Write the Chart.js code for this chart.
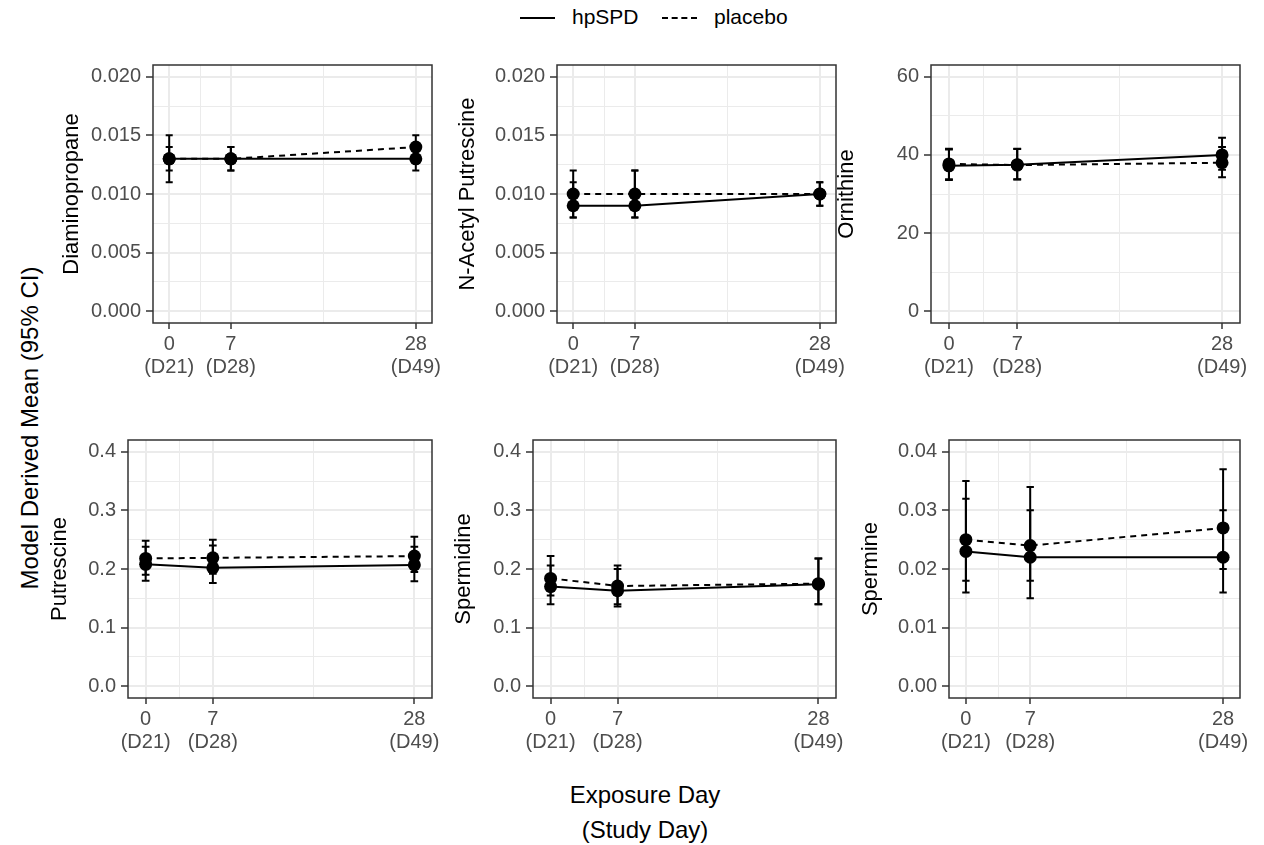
<!DOCTYPE html>
<html lang="en">
<head>
<meta charset="UTF-8">
<title>Polyamines by exposure day</title>
<script src="https://cdn.jsdelivr.net/npm/chart.js@4/dist/chart.umd.min.js"></script>
<style>
  body { margin: 0; background: #fff; font-family: "Liberation Sans", Arial, sans-serif; }
  #page { position: relative; width: 1264px; height: 845px; overflow: hidden; background: #fff; }
  canvas { position: absolute; }
  .txt { position: absolute; color: #000; white-space: nowrap; font-size: 24px; line-height: 1; }
  .key { position: absolute; top: 17px; height: 0; }
</style>
</head>
<body>
<div id="page">
  <!-- legend -->
  <div class="key" style="left:520px;width:35px;border-top:2px solid #000;"></div>
  <div class="txt" style="left:572px;top:6px;font-size:21px;">hpSPD</div>
  <div class="key" style="left:662px;width:35px;border-top:2px dashed #000;"></div>
  <div class="txt" style="left:714px;top:6px;font-size:21px;">placebo</div>

  <!-- shared titles -->
  <div class="txt" style="left:30px;top:428px;transform:translate(-50%,-50%) rotate(-90deg);">Model Derived Mean (95% CI)</div>
  <div class="txt" style="left:645px;top:795px;transform:translate(-50%,-50%);">Exposure Day</div>
  <div class="txt" style="left:645px;top:830px;transform:translate(-50%,-50%);">(Study Day)</div>
</div>

<script>
// x positions (exposure day) and their two-line labels
const days = [0, 7, 28];
const dayLabels = [['0', '(D21)'], ['7', '(D28)'], ['28', '(D49)']];
const xMinor = [3.5, 17.5];

// Diaminopropane
const diaHp = [0.013, 0.013, 0.013];
const diaHpLo = [0.011, 0.012, 0.012];
const diaHpHi = [0.015, 0.014, 0.014];
const diaPl = [0.013, 0.013, 0.014];
const diaPlLo = [0.012, 0.012, 0.013];
const diaPlHi = [0.014, 0.014, 0.015];

// N-Acetyl Putrescine
const napHp = [0.009, 0.009, 0.010];
const napHpLo = [0.008, 0.008, 0.009];
const napHpHi = [0.011, 0.012, 0.011];
const napPl = [0.010, 0.010, 0.010];
const napPlLo = [0.008, 0.008, 0.009];
const napPlHi = [0.012, 0.012, 0.011];

// Ornithine
const ornHp = [37.2, 37.5, 40.0];
const ornHpLo = [33.6, 33.8, 36.2];
const ornHpHi = [41.4, 41.6, 44.4];
const ornPl = [37.7, 37.4, 38.0];
const ornPlLo = [33.8, 33.7, 34.3];
const ornPlHi = [41.6, 41.5, 42.0];

// Putrescine
const putHp = [0.208, 0.202, 0.207];
const putHpLo = [0.180, 0.176, 0.179];
const putHpHi = [0.238, 0.240, 0.238];
const putPl = [0.218, 0.219, 0.222];
const putPlLo = [0.190, 0.192, 0.195];
const putPlHi = [0.248, 0.250, 0.255];

// Spermidine
const spdHp = [0.170, 0.163, 0.174];
const spdHpLo = [0.140, 0.136, 0.140];
const spdHpHi = [0.206, 0.200, 0.218];
const spdPl = [0.184, 0.171, 0.175];
const spdPlLo = [0.155, 0.140, 0.140];
const spdPlHi = [0.222, 0.206, 0.218];

// Spermine
const spmHp = [0.023, 0.022, 0.022];
const spmHpLo = [0.016, 0.015, 0.016];
const spmHpHi = [0.032, 0.030, 0.030];
const spmPl = [0.025, 0.024, 0.027];
const spmPlLo = [0.018, 0.018, 0.020];
const spmPlHi = [0.035, 0.034, 0.037];

// panel setup: name, data, y axis top tick / step / decimals
const panels = [
  { name: 'Diaminopropane', hp: [diaHp, diaHpLo, diaHpHi], pl: [diaPl, diaPlLo, diaPlHi], top: 0.02, step: 0.005, dec: 3 },
  { name: 'N-Acetyl Putrescine', hp: [napHp, napHpLo, napHpHi], pl: [napPl, napPlLo, napPlHi], top: 0.02, step: 0.005, dec: 3 },
  { name: 'Ornithine', hp: [ornHp, ornHpLo, ornHpHi], pl: [ornPl, ornPlLo, ornPlHi], top: 60, step: 20, dec: 0 },
  { name: 'Putrescine', hp: [putHp, putHpLo, putHpHi], pl: [putPl, putPlLo, putPlHi], top: 0.4, step: 0.1, dec: 1 },
  { name: 'Spermidine', hp: [spdHp, spdHpLo, spdHpHi], pl: [spdPl, spdPlLo, spdPlHi], top: 0.4, step: 0.1, dec: 1 },
  { name: 'Spermine', hp: [spmHp, spmHpLo, spmHpHi], pl: [spmPl, spmPlLo, spmPlHi], top: 0.04, step: 0.01, dec: 2 }
];

// where each plot box sits on the page [left, top, right, bottom] + centre of the y title
const boxes = [
  { plot: [153, 65, 432, 323], titleX: 73 },
  { plot: [557, 65, 836, 323], titleX: 469 },
  { plot: [931, 65, 1240, 323], titleX: 848 },
  { plot: [128, 440, 432, 698], titleX: 61 },
  { plot: [533, 440, 836, 698], titleX: 465 },
  { plot: [949, 440, 1240, 698], titleX: 872 }
];

const FONT = '"Liberation Sans", Arial, sans-serif';
const TICK_COL = '#4d4d4d';
const GRID_COL = '#ebebeb';
const CAP_HALF = 0.4; // errorbar half width in x units

// errorbars drawn under the points
const errorBars = {
  id: 'errorBars',
  beforeDatasetsDraw(chart) {
    const { ctx, scales: { x, y } } = chart;
    ctx.save();
    ctx.strokeStyle = '#000';
    ctx.lineWidth = 2;
    ctx.setLineDash([]);
    chart.data.datasets.forEach(ds => {
      ds.data.forEach((p, i) => {
        const px = x.getPixelForValue(p.x);
        const half = x.getPixelForValue(p.x + CAP_HALF) - px;
        const yl = y.getPixelForValue(ds.lo[i]);
        const yh = y.getPixelForValue(ds.hi[i]);
        ctx.beginPath();
        ctx.moveTo(px, yl); ctx.lineTo(px, yh);
        ctx.moveTo(px - half, yl); ctx.lineTo(px + half, yl);
        ctx.moveTo(px - half, yh); ctx.lineTo(px + half, yh);
        ctx.stroke();
      });
    });
    ctx.restore();
  }
};

// ggplot-like panel border
const panelBorder = {
  id: 'panelBorder',
  afterDraw(chart) {
    const { ctx, chartArea: a } = chart;
    ctx.save();
    ctx.strokeStyle = '#333';
    ctx.lineWidth = 1.5;
    ctx.strokeRect(a.left, a.top, a.width, a.height);
    ctx.restore();
  }
};

const page = document.getElementById('page');

panels.forEach((pn, k) => {
  const b = boxes[k];
  const [pl, pt, pr, pb] = b.plot;
  const left = b.titleX - 14;
  const top = pt - 10;
  const axisW = pl - left;
  const axisH = 70;
  const w = pr + 22 - left;
  const h = 10 + (pb - pt) + axisH;

  const cv = document.createElement('canvas');
  cv.width = w; cv.height = h;
  cv.style.left = left + 'px'; cv.style.top = top + 'px';
  cv.style.width = w + 'px'; cv.style.height = h + 'px';
  page.appendChild(cv);

  const half = pn.step / 2;
  const nY = Math.round(pn.top / half);
  const yVals = [];
  for (let i = 0; i <= nY; i++) yVals.push(+(i * half).toFixed(pn.dec + 2));
  const isMajorY = v => Math.abs(v / pn.step - Math.round(v / pn.step)) < 1e-6;
  const isMajorX = v => days.includes(v);
  const xVals = days.concat(xMinor).sort((a, c) => a - c);

  const series = (arr, dash) => ({
    data: days.map((d, i) => ({ x: d, y: arr[0][i] })),
    lo: arr[1],
    hi: arr[2],
    borderColor: '#000',
    backgroundColor: '#000',
    borderWidth: 2,
    borderDash: dash,
    pointRadius: 6.5,
    pointBorderWidth: 0,
    pointBackgroundColor: '#000',
    tension: 0
  });

  new Chart(cv, {
    type: 'line',
    data: { datasets: [series(pn.pl, [6, 5]), series(pn.hp, [])] },
    options: {
      responsive: false,
      animation: false,
      layout: { padding: { top: 10, right: 22, left: 0, bottom: 0 } },
      plugins: { legend: { display: false }, tooltip: { enabled: false } },
      scales: {
        x: {
          type: 'linear',
          min: -1.84,
          max: 29.84,
          afterBuildTicks: s => { s.ticks = xVals.map(v => ({ value: v })); },
          afterFit: s => { s.height = axisH; s.paddingLeft = 0; s.paddingRight = 0; },
          ticks: {
            autoSkip: false, maxRotation: 0, minRotation: 0, padding: 4,
            color: TICK_COL, font: { family: FONT, size: 20, lineHeight: 1.15 },
            callback: v => { const i = days.indexOf(v); return i >= 0 ? dayLabels[i] : ''; }
          },
          grid: {
            color: GRID_COL,
            lineWidth: c => (c.tick && isMajorX(c.tick.value)) ? 2 : 1,
            tickLength: 6,
            tickWidth: 1.5,
            tickColor: c => (c.tick && isMajorX(c.tick.value)) ? '#333' : 'rgba(0,0,0,0)'
          },
          border: { display: false }
        },
        y: {
          type: 'linear',
          min: -0.05 * pn.top,
          max: 1.05 * pn.top,
          afterBuildTicks: s => { s.ticks = yVals.map(v => ({ value: v })); },
          afterFit: s => { s.width = axisW; s.paddingTop = 0; s.paddingBottom = 0; },
          ticks: {
            autoSkip: false, padding: 5,
            color: TICK_COL, font: { family: FONT, size: 20 },
            callback: v => isMajorY(v) ? v.toFixed(pn.dec) : ''
          },
          grid: {
            color: GRID_COL,
            lineWidth: c => (c.tick && isMajorY(c.tick.value)) ? 2 : 1,
            tickLength: 7,
            tickWidth: 1.5,
            tickColor: c => (c.tick && isMajorY(c.tick.value)) ? '#333' : 'rgba(0,0,0,0)'
          },
          border: { display: false },
          title: { display: true, text: pn.name, color: '#000', padding: 0, font: { family: FONT, size: 22 } }
        }
      }
    },
    plugins: [errorBars, panelBorder]
  });
});
</script>
</body>
</html>
